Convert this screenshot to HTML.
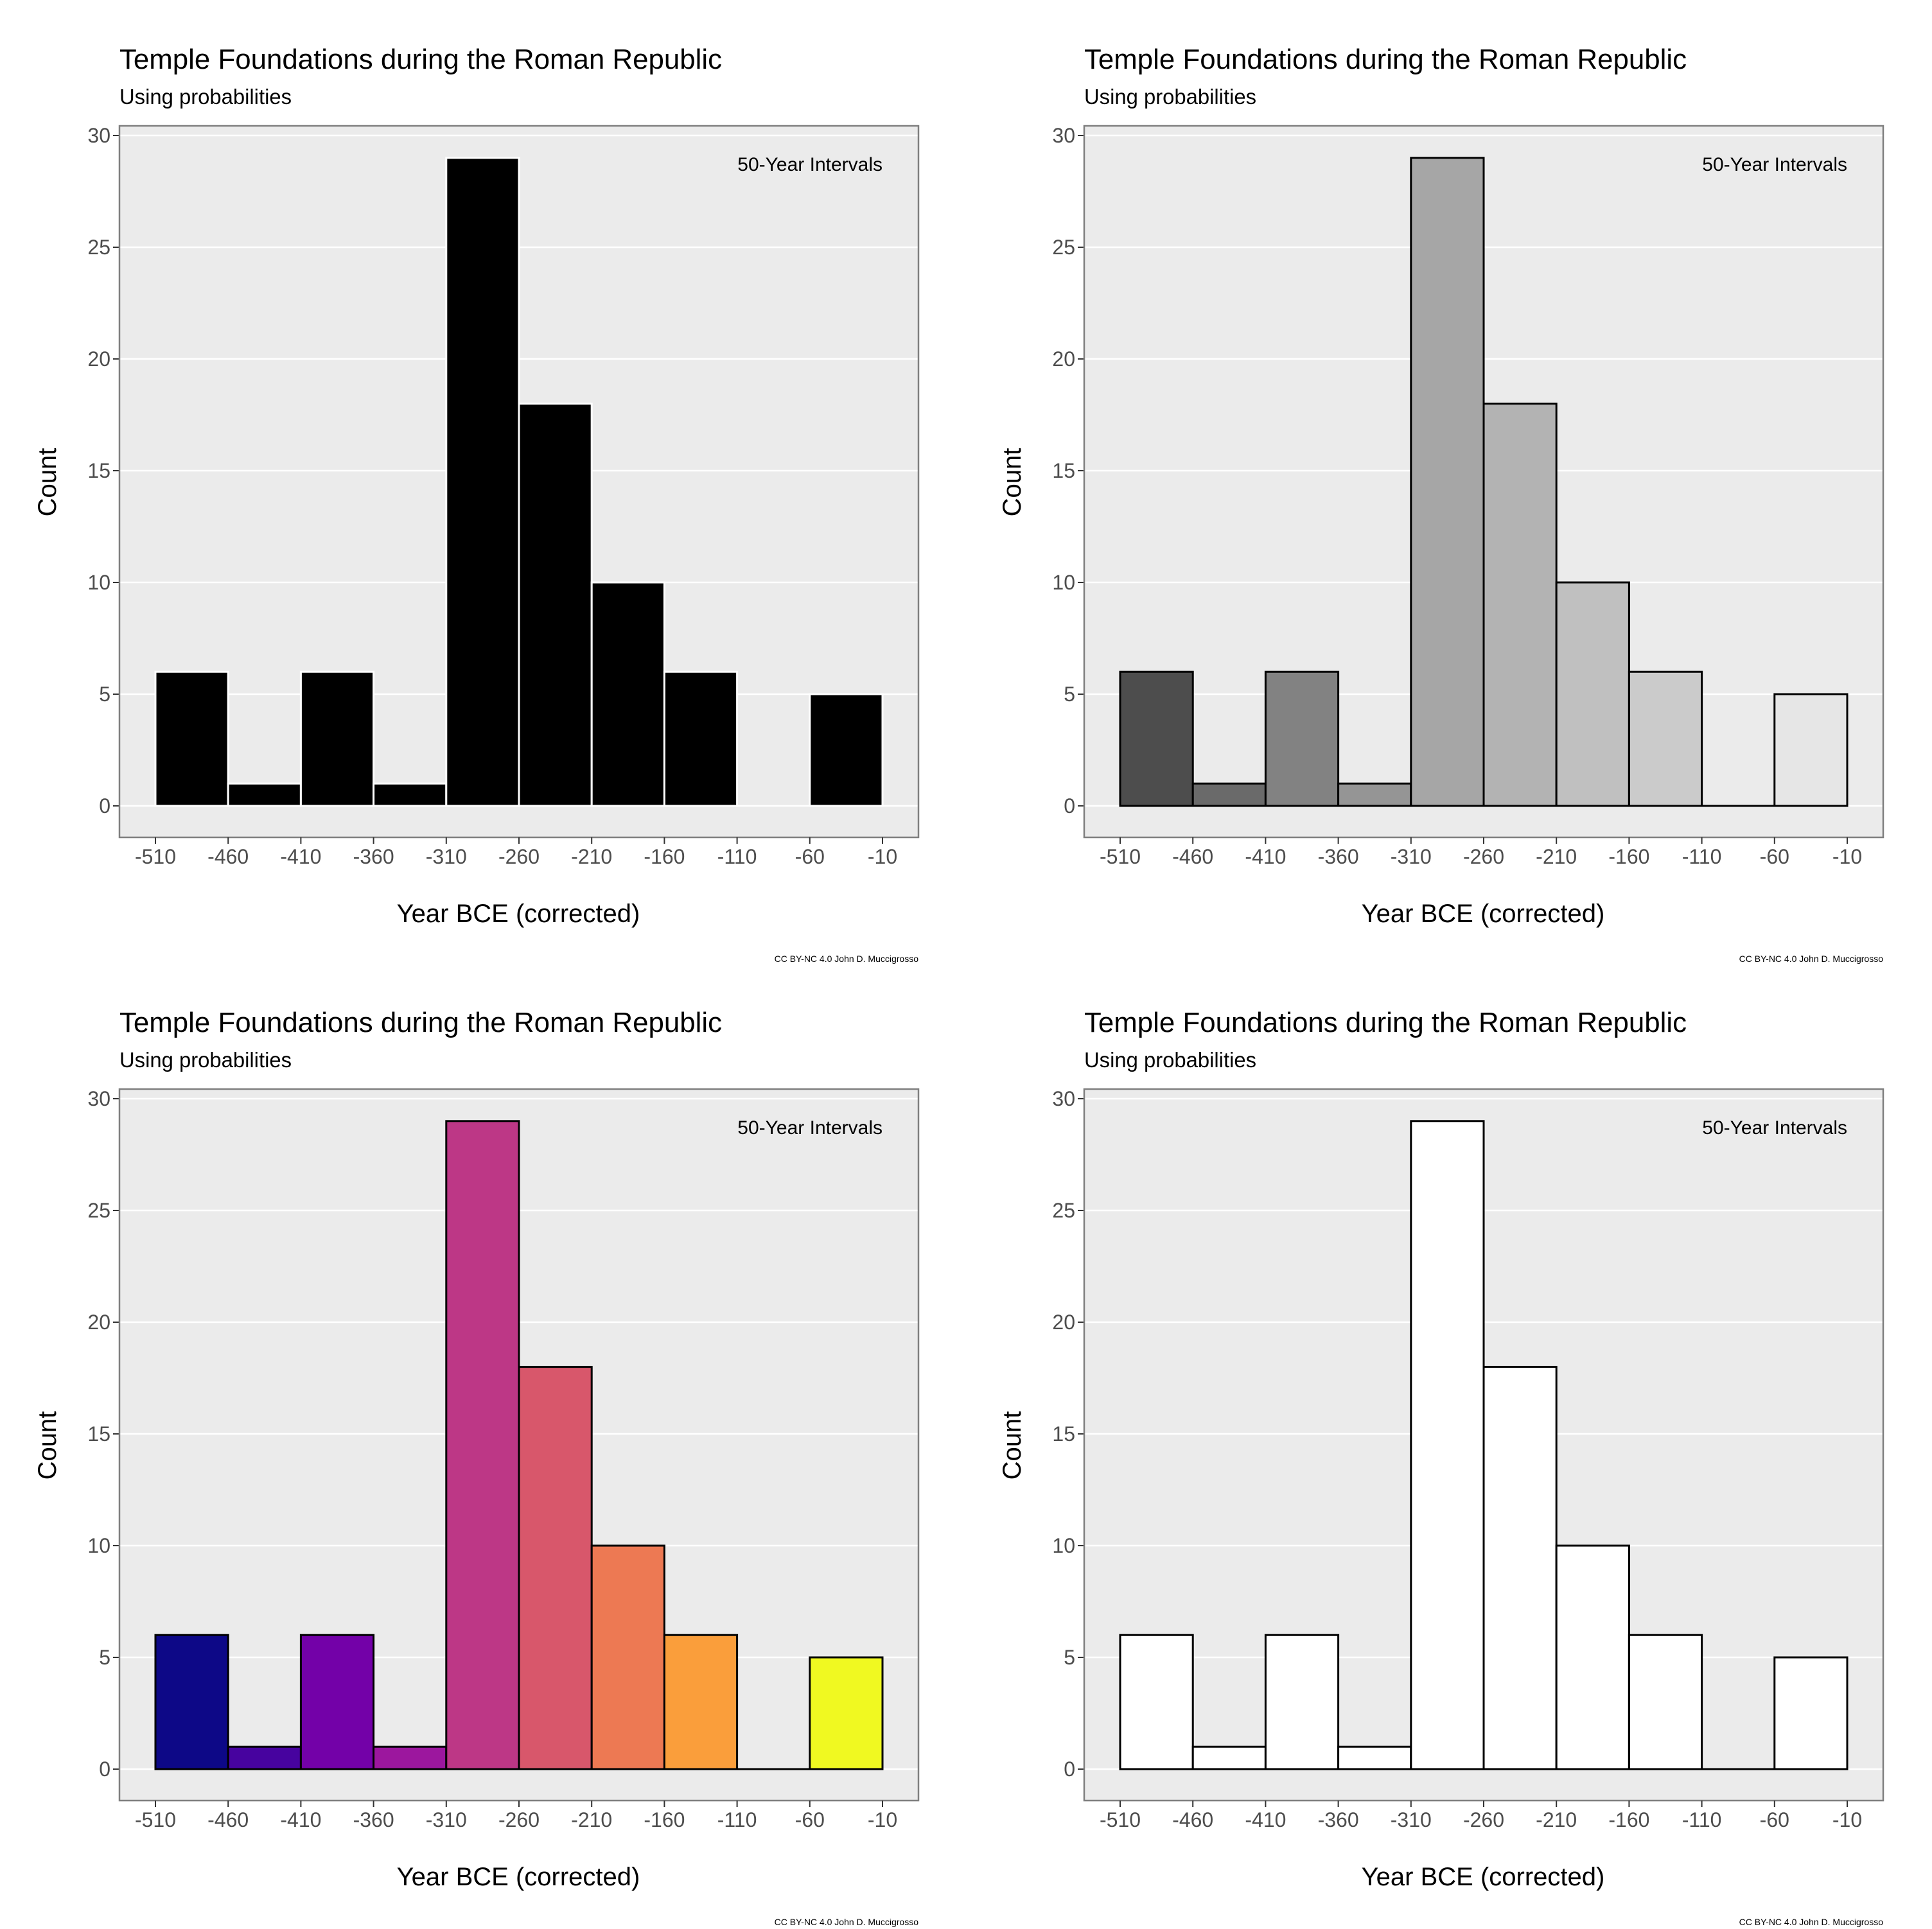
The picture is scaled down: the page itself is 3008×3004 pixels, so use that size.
<!DOCTYPE html>
<html><head><meta charset="utf-8">
<style>
html,body{margin:0;padding:0;background:#fff;}
svg{display:block;font-family:"Liberation Sans",sans-serif;}
</style></head>
<body>
<svg id="chart" width="3008" height="3004" viewBox="0 0 3008 3004" xmlns="http://www.w3.org/2000/svg"></svg>
<script>
const binStarts = [-510,-460,-410,-360,-310,-260,-210,-160,-110,-60];
const binWidth = 50;
const counts = [6,1,6,1,29,18,10,6,0,5];
const yTicks = [0,5,10,15,20,25,30];
const xTicks = [-510,-460,-410,-360,-310,-260,-210,-160,-110,-60,-10];
const grayFills = ["#4d4d4d","#6a6a6a","#828282","#959595","#a6a6a6","#b3b3b3","#c0c0c0","#cbcbcb","#d6d6d6","#e6e6e6"];
const plasmaFills = ["#0d0887","#47039f","#7301a8","#9c179e","#bd3786","#d8576b","#ed7953","#fa9e3b","#fdc926","#f0f921"];

const svg = document.getElementById('chart');
const NS = 'http://www.w3.org/2000/svg';
function mk(tag, attrs, parent){const e=document.createElementNS(NS,tag);for(const k in attrs)e.setAttribute(k,attrs[k]);parent.appendChild(e);return e;}

const panels = [
  {ox:0, oy:0, mode:'black'},
  {ox:1502, oy:0, mode:'gray'},
  {ox:0, oy:1500, mode:'plasma'},
  {ox:1502, oy:1500, mode:'white'}
];

panels.forEach((p, pi) => {
  const g = mk('g', {transform:`translate(${p.ox},${p.oy})`}, svg);
  
  
  const L=186, R=1430, T=196, B=1304;
  const xS = v => 242 + (v + 510) * (1374 - 242) / 500;
  const yS = v => 1255 - v * (1255 - 211) / 30;

  const t = mk('text', {x:186, y:107, 'font-size':44, fill:'#000', textLength:938, lengthAdjust:'spacingAndGlyphs'}, g);
  t.textContent = 'Temple Foundations during the Roman Republic';
  
  
  const st = mk('text', {x:186, y:162, 'font-size':33, fill:'#000', textLength:268, lengthAdjust:'spacingAndGlyphs'}, g);
  st.textContent = 'Using probabilities';
  
  

  const bg = mk('rect', {x:L, y:T, width:R-L, height:B-T, fill:'#ebebeb'}, g);
  
  

  yTicks.forEach(v => {
    const y = yS(v);
    const gl = mk('line', {x1:L, x2:R, y1:y, y2:y, stroke:'#fff', 'stroke-width':2.5}, g);
    
    
    mk('line', {x1:L-10, x2:L, y1:y, y2:y, stroke:'#333', 'stroke-width':2}, g);
    const tl = mk('text', {x:L-14, y:y+11, 'font-size':32, fill:'#4d4d4d', 'text-anchor':'end'}, g);
    tl.textContent = v;
    
    
  });

  counts.forEach((c, i) => {
    const x0 = xS(binStarts[i]), x1 = xS(binStarts[i] + binWidth);
    let fill, stroke;
    if (p.mode === 'black') { fill = '#000'; stroke = '#fff'; }
    else if (p.mode === 'gray') { fill = grayFills[i]; stroke = '#000'; }
    else if (p.mode === 'plasma') { fill = plasmaFills[i]; stroke = '#000'; }
    else { fill = '#fff'; stroke = '#000'; }
    if (c === 0) {
      if (p.mode === 'black') return;
      const zl = mk('line', {x1:x0, x2:x1, y1:yS(0), y2:yS(0), stroke:stroke, 'stroke-width':3}, g);
      
      
      return;
    }
    const r = mk('rect', {x:x0, y:yS(c), width:x1-x0, height:yS(0)-yS(c), fill:fill, stroke:stroke, 'stroke-width':3}, g);
    
    
  });

  const border = mk('rect', {x:L, y:T, width:R-L, height:B-T, fill:'none', stroke:'#7f7f7f', 'stroke-width':2.5}, g);
  
  

  xTicks.forEach(v => {
    const x = xS(v);
    mk('line', {x1:x, x2:x, y1:B, y2:B+10, stroke:'#333', 'stroke-width':2}, g);
    const tl = mk('text', {x:x, y:1345, 'font-size':32, fill:'#4d4d4d', 'text-anchor':'middle'}, g);
    tl.textContent = v;
    
    
  });

  const xt = mk('text', {x:807, y:1436, 'font-size':40, fill:'#000', 'text-anchor':'middle'}, g);
  xt.textContent = 'Year BCE (corrected)';
  
  
  const yt = mk('text', {x:0, y:0, 'font-size':40, fill:'#000', 'text-anchor':'middle', transform:'translate(87,751) rotate(-90)'}, g);
  yt.textContent = 'Count';
  
  

  const an = mk('text', {x:1374, y:266, 'font-size':30, fill:'#000', 'text-anchor':'end'}, g);
  an.textContent = '50-Year Intervals';
  
  
  const cap = mk('text', {x:1430, y:1498, 'font-size':14, fill:'#000', 'text-anchor':'end'}, g);
  cap.textContent = 'CC BY-NC 4.0 John D. Muccigrosso';
  
  
});
</script>
</body></html>
